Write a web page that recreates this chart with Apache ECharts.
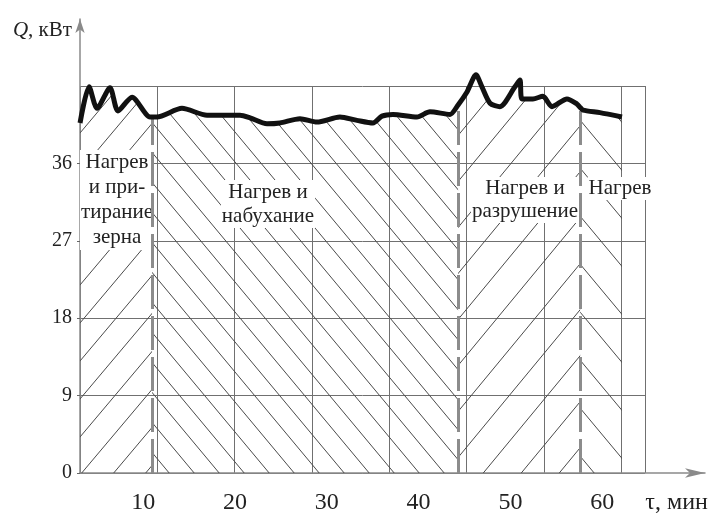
<!DOCTYPE html>
<html><head><meta charset="utf-8">
<script src="https://cdn.jsdelivr.net/npm/echarts@6/dist/echarts.min.js"></script>
<style>html,body{margin:0;padding:0;background:#fff}#c{width:716px;height:515px}</style>
</head><body><div id="c"></div>
<script>
// ---- data ----
const tau = [3.13,4.11,4.98,6.39,7.26,8.79,10.75,10.97,11.51,14.23,16.96,20.55,21.64,23.49,24.9,27.08,28.93,31.43,33.29,35.03,36.01,37.21,39.82,41.24,43.42,44.3,45.27,46.25,46.9,47.78,48.86,50.49,51.04,51.26,52.45,53.54,54.52,56.16,57.25,57.6,57.9,59.75,62.15];
const power = [40.7,44.9,42.4,44.8,42.1,43.7,41.4,41.4,41.4,42.4,41.6,41.6,41.3,40.6,40.7,41.2,40.8,41.4,41.0,40.7,41.5,41.7,41.4,42.0,41.7,42.8,44.3,46.3,44.9,43.0,42.6,44.9,45.7,43.5,43.5,43.8,42.6,43.5,42.9,42.5,42.2,41.9,41.4];
const phaseStart = [3.13, 10.97, 44.3, 57.6];
const phaseEnd = [10.97, 44.3, 57.6, 62.15];
const boundaries = [10.97, 44.3, 57.6];
const phaseNames = ['Нагрев\nи при-\nтирание\nзерна', 'Нагрев и\nнабухание', 'Нагрев и\nразрушение', 'Нагрев'];
const xTicks = [10, 20, 30, 40, 50, 60];
const yTicks = [0, 9, 18, 27, 36];
const xName = 'τ, мин';
const xNameAt = 68.1;

// ---- styles ----
const hatchSpacing = [32, 25, 38, 40];
const hatchDir = [1, -1, 1, -1];
const FONT = 'Liberation Serif';

function hatch(s, dir) {
  const h = Math.round(s * 1.2);
  const c = document.createElement('canvas');
  c.width = s; c.height = h;
  const g = c.getContext('2d');
  g.strokeStyle = '#4a4a4a'; g.lineWidth = 1;
  for (let k = -1; k <= 1; k++) {
    g.beginPath();
    if (dir > 0) { g.moveTo(k * s, h); g.lineTo(k * s + s, 0); }
    else { g.moveTo(k * s, 0); g.lineTo(k * s + s, h); }
    g.stroke();
  }
  return c;
}

const allData = tau.map((t, i) => [t, power[i]]);
const areaSeries = phaseStart.map((a, i) => ({
  type: 'line', xAxisIndex: 0, yAxisIndex: 0, silent: true, z: 1,
  data: allData.filter(p => p[0] >= a && p[0] <= phaseEnd[i]),
  smooth: 0.25, showSymbol: false, symbol: 'none',
  lineStyle: { width: 0 },
  areaStyle: { color: { image: hatch(hatchSpacing[i], hatchDir[i]), repeat: 'repeat' }, opacity: 1 }
}));

const chart = echarts.init(document.getElementById('c'));
chart.setOption({
  animation: false,
  backgroundColor: '#fff',
  grid: [
    { left: 80, right: 11, top: 19, bottom: 42 },
    { left: 80, top: 86, width: 565, height: 387 }
  ],
  xAxis: [
    { gridIndex: 0, type: 'value', min: 3.125, max: 71.19,
      axisLine: { show: true, symbol: ['none', 'arrow'], symbolSize: [7, 20], lineStyle: { color: '#8a8a8a', width: 1.5 } },
      axisTick: { show: false }, splitLine: { show: false },
      axisLabel: { customValues: xTicks.concat([xNameAt]), fontSize: 24, fontFamily: FONT, color: '#222', margin: 18,
        formatter: v => (v === xNameAt ? xName : String(v)) }
    },
    { gridIndex: 1, type: 'value', min: 0, max: 7.309, interval: 1,
      axisLine: { show: false }, axisTick: { show: false }, axisLabel: { show: false },
      splitLine: { show: true, lineStyle: { color: '#707070', width: 1 } }
    }
  ],
  yAxis: [
    { gridIndex: 0, type: 'value', min: 0, max: 52.79,
      axisLine: { show: true, symbol: ['none', 'arrow'], symbolSize: [7, 14], lineStyle: { color: '#8a8a8a', width: 1.5 } },
      axisTick: { show: true, customValues: yTicks, length: 3, lineStyle: { color: '#666' } },
      splitLine: { show: false },
      axisLabel: { customValues: yTicks, fontSize: 20, fontFamily: FONT, color: '#222', margin: 8 },
      name: '{q|Q}, кВт', nameLocation: 'end', nameGap: -11,
      nameTextStyle: { fontSize: 21, fontFamily: FONT, color: '#222', align: 'right', verticalAlign: 'middle', padding: [0, 8, 0, 0],
        rich: { q: { fontSize: 21, fontFamily: FONT, fontStyle: 'italic', color: '#222' } } }
    },
    { gridIndex: 1, type: 'value', min: 0, max: 45, interval: 9,
      axisLine: { show: false }, axisTick: { show: false }, axisLabel: { show: false },
      splitLine: { show: true, lineStyle: { color: '#707070', width: 1 } }
    }
  ],
  series: areaSeries.concat([
    { type: 'line', xAxisIndex: 0, yAxisIndex: 0, z: 5, silent: true,
      data: allData, smooth: 0.25, showSymbol: false, symbol: 'none',
      lineStyle: { color: '#111', width: 5 },
      markLine: {
        silent: true, symbol: ['none', 'none'], label: { show: false },
        lineStyle: { color: '#8c8c8c', width: 3, type: [34, 7] },
        data: boundaries.map(b => [{ coord: [b, 0] }, { coord: [b, power[tau.indexOf(b)]] }])
      }
    }
  ]),
  graphic: [
    { type: 'text', x: 117, y: 150, z: 4, style: { text: phaseNames[0], font: '21px "' + FONT + '"', fill: '#222', align: 'center', verticalAlign: 'top', lineHeight: 25, backgroundColor: '#fff', padding: [0, 1] } },
    { type: 'text', x: 268, y: 180, z: 4, style: { text: phaseNames[1], font: '21px "' + FONT + '"', fill: '#222', align: 'center', verticalAlign: 'top', lineHeight: 24, backgroundColor: '#fff', padding: [0, 1] } },
    { type: 'text', x: 525, y: 177, z: 4, style: { text: phaseNames[2], font: '21px "' + FONT + '"', fill: '#222', align: 'center', verticalAlign: 'top', lineHeight: 23, backgroundColor: '#fff', padding: [0, 1] } },
    { type: 'text', x: 620, y: 177, z: 4, style: { text: phaseNames[3], font: '21px "' + FONT + '"', fill: '#222', align: 'center', verticalAlign: 'top', lineHeight: 23, backgroundColor: '#fff', padding: [0, 1] } }
  ]
});
</script>
</body></html>
